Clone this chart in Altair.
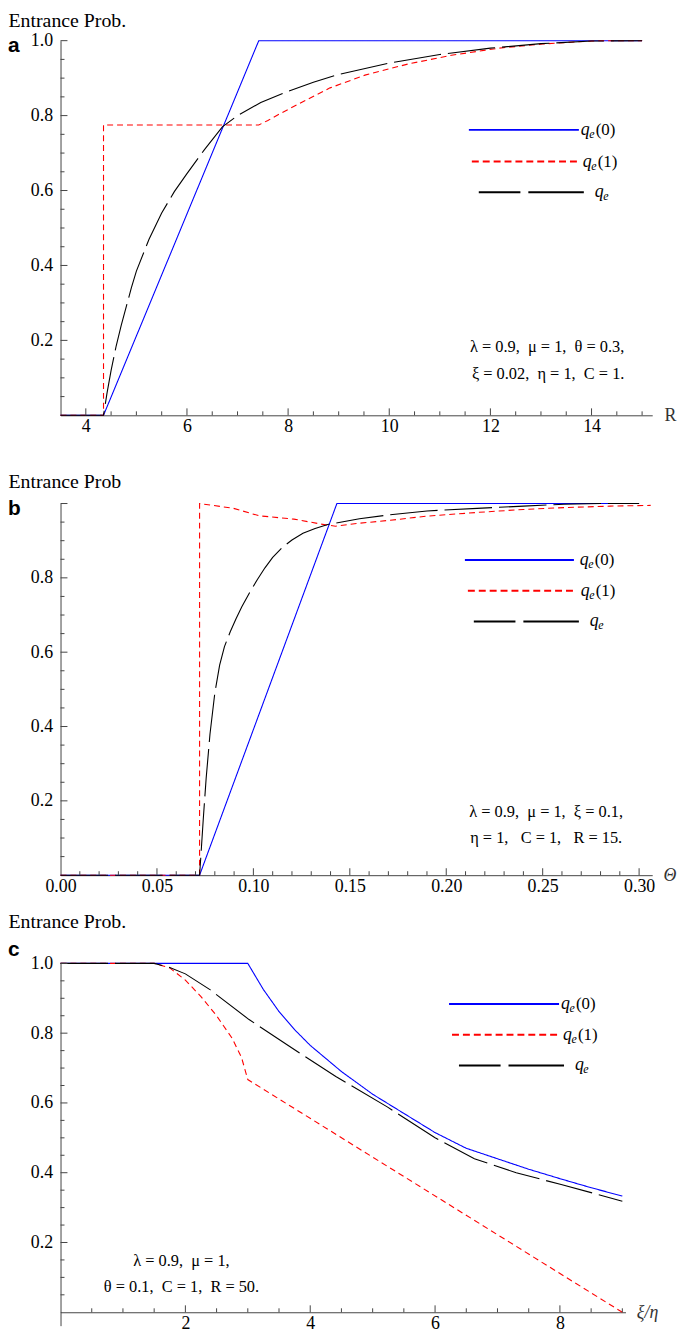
import altair as alt
import pandas as pd

# ---------------- data ----------------
NAMES = ["qₑ(0)", "qₑ(1)", "qₑ"]
LEG_SUFFIX = ["(0)", "(1)", ""]
COLORS = ["#0000ff", "#ff0000", "#000000"]
DASHES = [[1, 0], [6, 4], [48, 7]]
LEG_DASHES = [[1, 0], [7, 4], [42, 8, 60, 8]]

# panel a : x = R
a_x_q0 = [3.5, 4.35, 7.42, 15.0]
a_y_q0 = [0, 0, 1, 1]
a_x_q1 = [3.5, 4.35, 4.35, 7.42, 7.6, 7.81, 8.32, 8.83, 9.52, 10.38, 11.23, 12.17, 13.03, 13.6, 14.15, 15.0]
a_y_q1 = [0, 0, 0.775, 0.775, 0.787, 0.803, 0.839, 0.874, 0.908, 0.938, 0.961, 0.98, 0.991, 0.996, 1.0, 1.0]
a_x_qe = [3.5, 4.35, 4.42, 4.5, 4.6, 4.7, 4.8, 4.9, 5.0, 5.25, 5.5, 5.75, 6.0, 6.35, 6.7, 7.0, 7.46, 8.0, 8.5, 9.0, 10.0, 11.0, 12.0, 13.0, 14.0, 15.0]
a_y_qe = [0, 0, 0.06, 0.12, 0.185, 0.24, 0.29, 0.34, 0.385, 0.47, 0.54, 0.597, 0.645, 0.71, 0.77, 0.80, 0.835, 0.865, 0.889, 0.91, 0.94, 0.963, 0.98, 0.992, 0.999, 1.0]

# panel b : x = theta
b_x_q0 = [0, 0.0721, 0.1433, 0.30]
b_y_q0 = [0, 0, 1, 1]
b_x_q1 = [0, 0.0721, 0.0721, 0.0897, 0.103, 0.121, 0.1347, 0.1426, 0.155, 0.171, 0.19, 0.216, 0.24, 0.261, 0.285, 0.306]
b_y_q1 = [0, 0, 1.0, 0.987, 0.967, 0.958, 0.945, 0.939, 0.947, 0.955, 0.966, 0.976, 0.984, 0.989, 0.993, 0.995]
b_x_qe = [0, 0.0721, 0.073, 0.074, 0.0755, 0.0775, 0.08, 0.0825, 0.085, 0.088, 0.091, 0.094, 0.098, 0.102, 0.106,
          0.11, 0.115, 0.12, 0.1257, 0.132, 0.139, 0.155, 0.171, 0.19, 0.216, 0.24, 0.261, 0.28, 0.30]
b_y_qe = [0, 0, 0.07, 0.15, 0.26, 0.38, 0.49, 0.565, 0.615, 0.655, 0.69, 0.722, 0.76, 0.795, 0.827,
          0.855, 0.882, 0.902, 0.92, 0.933, 0.944, 0.959, 0.97, 0.98, 0.987, 0.993, 0.998, 1.0, 1.0]

# panel c : x = xi/eta
c_x_q0 = [0, 3.0, 3.1, 3.25, 3.5, 3.75, 4.0, 4.5, 5.0, 5.5, 6.0, 6.5, 7.0, 7.5, 8.0, 8.5, 9.0]
c_y_q0 = [1, 1, 0.97, 0.925, 0.862, 0.81, 0.765, 0.69, 0.625, 0.57, 0.515, 0.47, 0.44, 0.41, 0.383, 0.357, 0.333]
c_x_q1 = [0, 1.5, 1.75, 2.0, 2.25, 2.5, 2.75, 2.9, 3.0, 9.0]
c_y_q1 = [1, 1, 0.987, 0.952, 0.905, 0.85, 0.785, 0.73, 0.667, 0.0]
c_x_qe = [0, 1.5, 1.75, 2.0, 2.4, 3.02, 3.72, 4.41, 5.24, 6.0, 6.63, 7.3, 8.02, 8.5, 9.0]
c_y_qe = [1, 1, 0.988, 0.97, 0.924, 0.839, 0.756, 0.676, 0.588, 0.5, 0.44, 0.4, 0.366, 0.343, 0.318]

AX = "#444444"
SERIF = "Liberation Serif"
EN = "\u2002"


def long_df(xs_list, ys_list):
    rows = []
    for name, xs, ys in zip(NAMES, xs_list, ys_list):
        for i, (x, y) in enumerate(zip(xs, ys)):
            rows.append({"x": x, "y": y, "s": name, "i": i})
    return pd.DataFrame(rows)


def one(text=""):
    return pd.DataFrame({"t": [text]})


def txt(text, x, y, size, style="normal", weight="normal", font=SERIF, align="left", baseline="alphabetic"):
    return alt.Chart(one(text)).mark_text(
        font=font, fontSize=size, fontStyle=style, fontWeight=weight,
        align=align, baseline=baseline, color="black"
    ).encode(x=alt.value(x), y=alt.value(y), text="t:N")


def panel(df, W, H, xdom, xlabels, xfmt, xmajor, xminor, ylabels, ymajor, yminor,
          xtitle, xtitle_dx, xtitle_style, ytitle, ytitle_dy, letter, letter_xy, legend, notes,
          yaxis_below=0):
    xs = alt.Scale(domain=xdom, nice=False, zero=False)
    ys = alt.Scale(domain=[0, 1], nice=False, zero=False)
    cs = alt.Scale(domain=NAMES, range=COLORS)
    ds = alt.Scale(domain=NAMES, range=DASHES)
    xaxis = alt.Axis(values=xlabels, format=xfmt, ticks=False, grid=False,
                     domainColor=AX, labelFont=SERIF, labelFontSize=18, labelColor="black",
                     labelPadding=2, labelFlush=False, labelOverlap=False,
                     title=xtitle, titleFont=SERIF, titleFontSize=18, titleFontWeight="normal",
                     titleFontStyle=xtitle_style,
                     titleColor="#333333", titleX=W + xtitle_dx, titleY=0,
                     titleAlign="left", titleBaseline="middle", titleAngle=0)
    yaxis = alt.Axis(values=ylabels, format=".1f", ticks=False, grid=False,
                     domainColor=AX, labelFont=SERIF, labelFontSize=18, labelColor="black",
                     labelPadding=8, labelFlush=False, labelOverlap=False,
                     title=ytitle, titleFont=SERIF, titleFontSize=20, titleFontWeight="normal",
                     titleColor="black", titleX=-53, titleY=ytitle_dy,
                     titleAlign="left", titleBaseline="middle", titleAngle=0)
    layers = []
    lines = alt.Chart(df).mark_line(strokeWidth=1.1).encode(
        x=alt.X("x:Q", scale=xs, axis=xaxis, title=xtitle),
        y=alt.Y("y:Q", scale=ys, axis=yaxis, title=ytitle),
        color=alt.Color("s:N", scale=cs, legend=None),
        strokeDash=alt.StrokeDash("s:N", scale=ds, legend=None),
        order=alt.Order("i:Q"),
    )
    layers.append(lines)
    # inward ticks (Mathematica style)
    layers.append(alt.Chart(pd.DataFrame({"x": xmajor})).mark_rule(color=AX, strokeWidth=1).encode(
        x=alt.X("x:Q", scale=xs, axis=xaxis, title=xtitle), y=alt.value(H), y2=alt.value(H - 7)))
    layers.append(alt.Chart(pd.DataFrame({"x": xminor})).mark_rule(color=AX, strokeWidth=1).encode(
        x=alt.X("x:Q", scale=xs, axis=xaxis, title=xtitle), y=alt.value(H), y2=alt.value(H - 4)))
    layers.append(alt.Chart(pd.DataFrame({"y": ymajor})).mark_rule(color=AX, strokeWidth=1).encode(
        y=alt.Y("y:Q", scale=ys, axis=yaxis, title=ytitle), x=alt.value(0), x2=alt.value(7)))
    layers.append(alt.Chart(pd.DataFrame({"y": yminor})).mark_rule(color=AX, strokeWidth=1).encode(
        y=alt.Y("y:Q", scale=ys, axis=yaxis, title=ytitle), x=alt.value(0), x2=alt.value(4)))
    if yaxis_below:
        layers.append(alt.Chart(one()).mark_rule(color=AX, strokeWidth=1).encode(
            x=alt.value(0.5), y=alt.value(H), y2=alt.value(H + yaxis_below)))
    # panel letter
    layers.append(txt(letter, letter_xy[0], letter_xy[1], 21, weight="bold",
                      font="Liberation Sans", baseline="middle"))
    # legend (line sample + q_e(k) label)
    for k, (x1, x2, yy, xl) in enumerate(legend):
        layers.append(alt.Chart(one()).mark_rule(
            color=COLORS[k], strokeDash=LEG_DASHES[k], strokeWidth=2
        ).encode(x=alt.value(x1), x2=alt.value(x2), y=alt.value(yy)))
        layers.append(txt("q", xl, yy + 5, 18, style="italic"))
        layers.append(txt("e", xl + 8.5, yy + 8, 12, style="italic"))
        if LEG_SUFFIX[k]:
            layers.append(txt(LEG_SUFFIX[k], xl + 15, yy + 5, 17))
    # parameter notes
    for (t, nx, ny) in notes:
        layers.append(txt(t, nx, ny, 16.5, align="center", baseline="middle"))
    return alt.layer(*layers).properties(width=W, height=H)


WA, HA = 597, 378
pa = panel(
    long_df([a_x_q0, a_x_q1, a_x_qe], [a_y_q0, a_y_q1, a_y_qe]), WA, HA, [3.5, 15.2],
    [4, 6, 8, 10, 12, 14], "d", [4, 6, 8, 10, 12, 14],
    [v / 2 for v in range(9, 31) if v % 4 != 0],
    [0.2, 0.4, 0.6, 0.8, 1.0], [0.2, 0.4, 0.6, 0.8, 1.0],
    [v / 20 for v in range(1, 20) if v % 4 != 0],
    "R", 12, "normal", "Entrance Prob.", -20, "a", (-53, 5),
    [(412, 523, 90, 525), (415, 523, 122, 527), (422, 528, 153, 539)],
    [(f"λ = 0.9,{EN}μ = 1,{EN}θ = 0.3,", 491, 309), (f"ξ = 0.02,{EN}η = 1,{EN}C = 1.", 492, 336)],
)

WB, HB = 597, 375
pb = panel(
    long_df([b_x_q0, b_x_q1, b_x_qe], [b_y_q0, b_y_q1, b_y_qe]), WB, HB, [0, 0.3068],
    [0, 0.05, 0.10, 0.15, 0.20, 0.25, 0.30], ".2f", [0.05, 0.10, 0.15, 0.20, 0.25, 0.30],
    [v / 100 for v in range(1, 31) if v % 5 != 0],
    [0.2, 0.4, 0.6, 0.8], [0.2, 0.4, 0.6, 0.8, 1.0],
    [v / 20 for v in range(1, 20) if v % 4 != 0],
    "Θ", 11, "italic", "Entrance Prob", -22, "b", (-53, 6),
    [(408, 518, 57, 524), (411, 518, 88, 525), (417, 523, 119, 534)],
    [(f"λ = 0.9,{EN}μ = 1,{EN}ξ = 0.1,", 490, HB - 64), (f"η = 1,{EN} C = 1,{EN} R = 15.", 490, HB - 37)],
)

WC, HC = 570, 352
pc = panel(
    long_df([c_x_q0, c_x_q1, c_x_qe], [c_y_q0, c_y_q1, c_y_qe]), WC, HC, [0, 9.05],
    [2, 4, 6, 8], "d", [2, 4, 6, 8],
    [v / 2 for v in range(1, 19) if v % 4 != 0],
    [0.2, 0.4, 0.6, 0.8, 1.0], [0.2, 0.4, 0.6, 0.8, 1.0],
    [v / 20 for v in range(1, 20) if v % 4 != 0],
    "ξ/η", 11, "italic", "Entrance Prob.", -42, "c", (-53, -13),
    [(392, 503, 41, 505), (395, 503, 72, 507), (402, 508, 103, 519)],
    [(f"λ = 0.9,{EN}μ = 1,", 122, 300), (f"θ = 0.1,{EN}C = 1,{EN}R = 50.", 122, 327)],
    yaxis_below=14,
)

chart = alt.vconcat(pa, pb, pc, spacing=89, bounds="flush").properties(
    padding={"left": 0, "top": -3, "right": 0, "bottom": 0}
).configure_view(stroke=None)

chart.save("out.html", embed_options={"renderer": "svg", "actions": False})
